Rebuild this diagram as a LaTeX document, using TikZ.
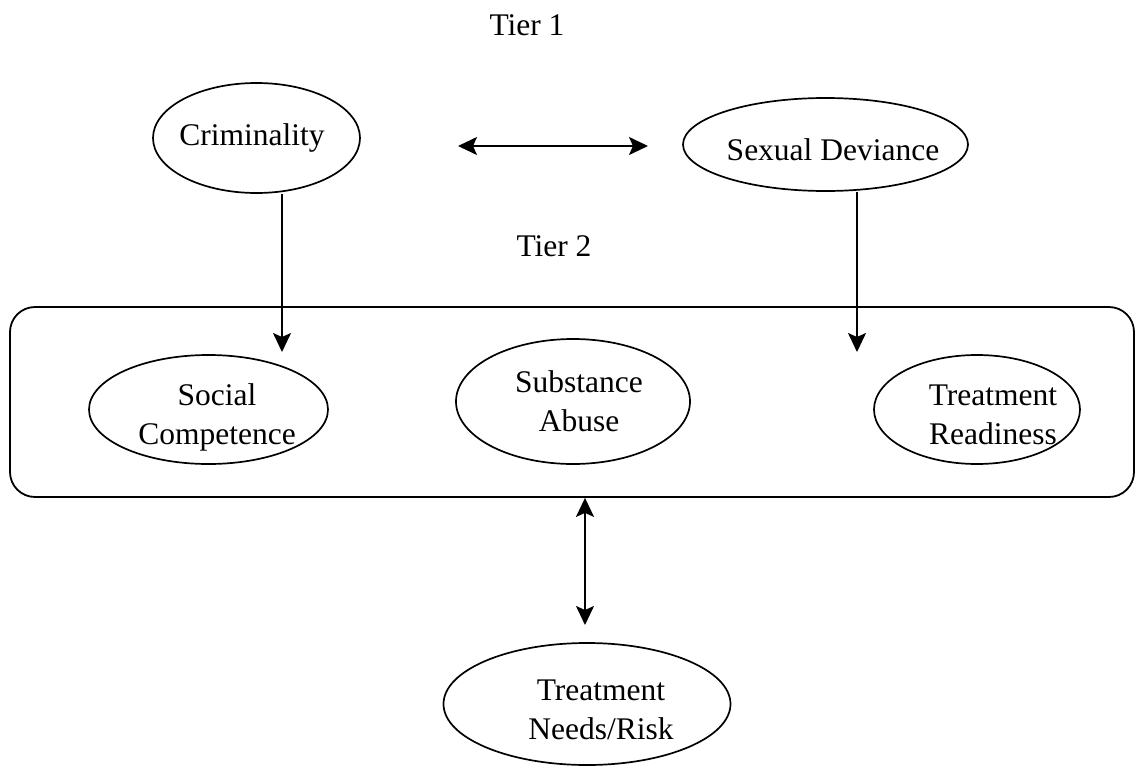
\documentclass[tikz,border=0pt]{standalone}
\usepackage{fontspec}
\setmainfont{Liberation Serif}
\usetikzlibrary{shapes.geometric,arrows.meta}
\begin{document}
\begin{tikzpicture}[x=1pt,y=-1pt,
  ell/.style={draw, ellipse, line width=1.7pt, inner sep=0pt},
  txt/.style={align=center, font=\fontsize{31.5}{39}\selectfont, inner sep=0pt},
  arr/.style={-{Stealth[length=19pt,width=18pt,inset=4pt]}, line width=1.8pt},
  darr/.style={{Stealth[length=19pt,width=18pt,inset=4pt]}-{Stealth[length=19pt,width=18pt,inset=4pt]}, line width=1.8pt},
  frame/.style={draw, rounded corners=25pt, line width=1.8pt, inner sep=0pt}]
\useasboundingbox (0,0) rectangle (1136,766);

% Tier labels
\node[txt] (tier1) at (527,25) {Tier 1};
\node[txt] (tier2) at (554,246) {Tier 2};

% Tier 1 ellipses
\node[ell, minimum width=207pt, minimum height=110pt] (crim) at (256.5,138) {};
\node[txt] (crimt) at (252,138) {Criminality};
\node[ell, minimum width=285pt, minimum height=93pt] (sex) at (825.5,144.5) {};
\node[txt] (sext) at (833,150) {Sexual Deviance};

% Tier 2 frame
\node[frame, minimum width=1124pt, minimum height=190pt] (box) at (572,402) {};

\node[ell, minimum width=239pt, minimum height=109pt] (soc) at (208.5,409.5) {};
\node[txt] (soct) at (217,417) {Social\\Competence};
\node[ell, minimum width=234pt, minimum height=125pt] (sub) at (573,401.5) {};
\node[txt] (subt) at (579,401) {Substance\\Abuse};
\node[ell, minimum width=206pt, minimum height=109pt] (tr) at (977,409.5) {};
\node[txt] (trt) at (993,415) {Treatment\\Readiness};

% Bottom ellipse
\node[ell, minimum width=287pt, minimum height=122pt] (needs) at (587,704) {};
\node[txt] (needst) at (601,710) {Treatment\\Needs/Risk};

% Connectors
\coordinate (h1) at (458,146);
\coordinate (h2) at (648,146);
\draw[darr] (h1) -- (h2);

\coordinate (ca) at (282,352);
\draw[arr] (crim.south -| ca) -- (ca);
\coordinate (sa) at (857,352);
\draw[arr] (sex.south -| sa) -- (sa);

\coordinate (va) at (585,625);
\draw[darr] (box.south -| va) -- (va);
\end{tikzpicture}
\end{document}
